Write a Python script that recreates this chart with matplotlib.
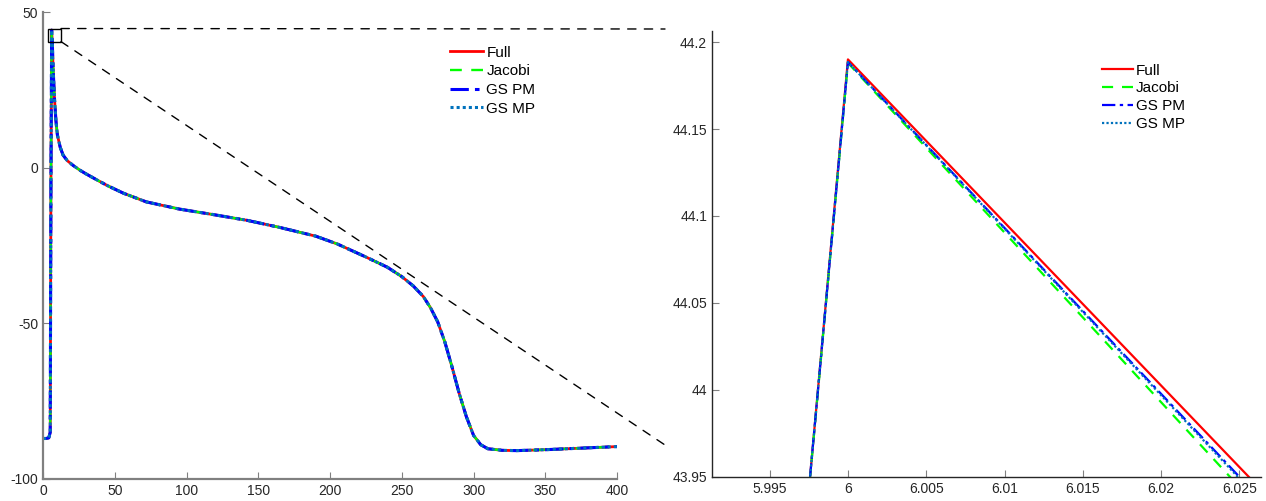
import numpy as np
import matplotlib.pyplot as plt
from matplotlib.patches import Rectangle, ConnectionPatch
from matplotlib.ticker import FuncFormatter

plt.rcParams['font.family'] = ['Liberation Sans', 'DejaVu Sans']

# action potential trace (shared by all four solvers away from the peak)
t_rise = [0, 2, 4, 5]
v_rise = [-87, -87, -86.8, -85]
t_fall = [7, 8, 9, 10, 12, 14, 17, 21, 26, 30, 37, 45, 56, 72, 95, 119, 142, 165,
          190, 205, 225, 240, 250, 258, 265, 270, 275, 280, 285, 290, 295, 300,
          305, 310, 320, 330, 350, 370, 400]
v_fall = [32, 22, 15, 10.5, 6.5, 4, 2.2, 0.7, -0.9, -2.0, -3.8, -5.8, -8.2, -11.0, -13.3,
          -15.1, -16.9, -19.2, -22, -24.5, -28.7, -32, -35, -38, -41.4, -45, -49.5,
          -56, -64, -72.5, -80, -86, -89, -90.3, -90.8, -90.9, -90.6, -90.2, -89.6]

# samples around the peak, per solver
t_peak = [5.5, 6.0, 6.5]
peak_full = [-5.40, 44.1900, 39.5025]
peak_jacobi = [-5.10, 44.1880, 39.311]
peak_gspm = [-5.10, 44.1885, 39.4185]
peak_gsmp = [-5.10, 44.1885, 39.399]

labels = ['Full', 'Jacobi', 'GS PM', 'GS MP']
colors = ['#ff0000', '#00ff00', '#0000ff', '#0072bd']
styles = ['-', (0, (5, 4)), (0, (6, 2, 1.5, 2)), (0, (1, 1))]
widths_left = [2.0, 1.7, 2.2, 2.2]
peaks = [peak_full, peak_jacobi, peak_gspm, peak_gsmp]

t_all = np.array(t_rise + t_peak + t_fall)

fig = plt.figure(figsize=(12.66, 5.01), dpi=100)
ax1 = fig.add_axes([0.034, 0.044, 0.4534, 0.932])
ax2 = fig.add_axes([0.5624, 0.048, 0.4336, 0.890])

for lab, c, ls, lw, pk in zip(labels, colors, styles, widths_left, peaks):
    v = np.array(v_rise + pk + v_fall)
    ax1.plot(t_all, v, color=c, ls=ls, lw=lw, label=lab)
    ax2.plot(t_all, v, color=c, ls=ls, lw=1.6, label=lab)

fmt = FuncFormatter(lambda x, p: '%g' % round(x, 4))

ax1.set_xlim(0, 400)
ax1.set_ylim(-100, 50)
ax1.set_xticks([0, 50, 100, 150, 200, 250, 300, 350, 400])
ax1.set_yticks([-100, -50, 0, 50])
ax2.set_xlim(5.99132, 6.02637)
ax2.set_ylim(43.95, 44.2063)
ax2.set_xticks([5.995, 6.0, 6.005, 6.01, 6.015, 6.02, 6.025])
ax2.set_yticks([43.95, 44.0, 44.05, 44.1, 44.15, 44.2])

for ax, sc, slw in [(ax1, '#808080', 1.6), (ax2, '#262626', 1.0)]:
    ax.spines['top'].set_visible(False)
    ax.spines['right'].set_visible(False)
    ax.spines['left'].set_color(sc)
    ax.spines['bottom'].set_color(sc)
    ax.spines['left'].set_linewidth(slw)
    ax.spines['bottom'].set_linewidth(slw)
    ax.tick_params(direction='in', length=5, colors='#808080', labelcolor='#262626',
                   labelsize=10)
    ax.xaxis.set_major_formatter(fmt)
    ax.yaxis.set_major_formatter(fmt)

ax1.legend(loc='upper left', bbox_to_anchor=(0.695, 0.944), frameon=False,
           fontsize=11, handlelength=2.2, handletextpad=0.2, labelspacing=0.3,
           borderpad=0)
ax2.legend(loc='upper left', bbox_to_anchor=(0.697, 0.944), frameon=False,
           fontsize=11, handlelength=2.0, handletextpad=0.2, labelspacing=0.25,
           borderpad=0)

# zoom box and connecting lines
box = Rectangle((3.5, 40.5), 9, 4.2, fill=False, ec='black', lw=1, zorder=5)
ax1.add_patch(box)
for yb, yf in [(44.7, 1 - 29 / 501), (40.5, 1 - 445 / 501)]:
    con = ConnectionPatch(xyA=(12.5, yb), coordsA=ax1.transData,
                          xyB=(665 / 1266, yf), coordsB=fig.transFigure,
                          color='black', lw=1, ls=(0, (6, 6)))
    fig.add_artist(con)

fig.savefig('out.png', dpi=100)
